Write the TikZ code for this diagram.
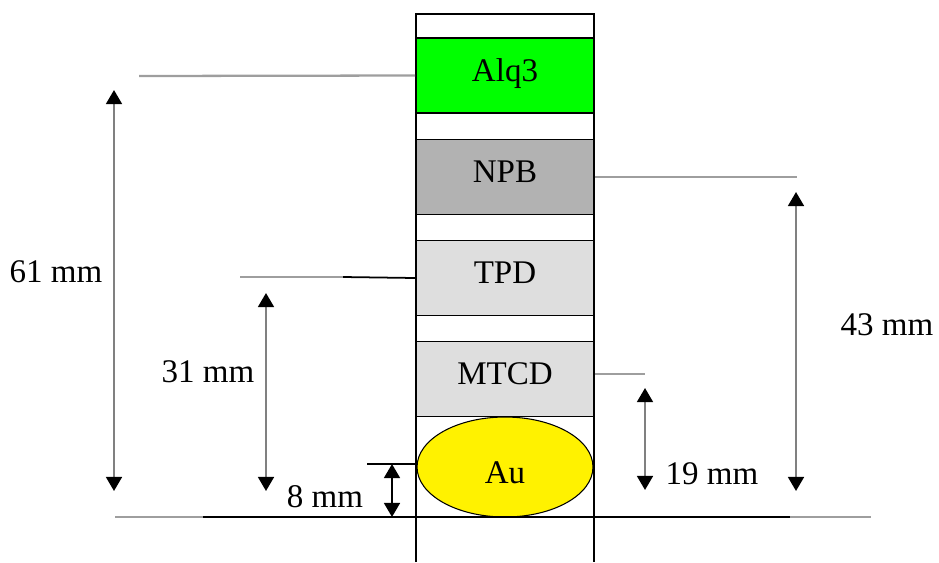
\documentclass[tikz,border=0pt]{standalone}
\usepackage{fontspec}
\setmainfont{Liberation Serif}
\usetikzlibrary{arrows.meta,shapes.geometric}

\begin{document}
\begin{tikzpicture}[
    x=0.02cm, y=-0.02cm,
    font=\fontsize{18.8}{22}\selectfont,
    layer/.style={draw=black, line width=1pt, minimum width=3.56cm, minimum height=1.5cm, inner sep=0pt, text depth=6pt},
    lead/.style={black!38, line width=1.3pt},
    dimarrow/.style={black!50, line width=1.3pt, {Triangle[width=9pt,length=8pt,color=black]}-{Triangle[width=9pt,length=8pt,color=black]}},
  ]
    \useasboundingbox (0,0) rectangle (939,562);

    % the stack
    \draw[line width=1pt] (416,562) |- (594,14) -- (594,562);
    \node[layer, fill=green]    (alq)  at (505,75.5) {Alq3};
    \node[layer, fill=black!30] (npb)  at (505,177)  {NPB};
    \node[layer, fill=black!13] (tpd)  at (505,278)  {TPD};
    \node[layer, fill=black!13] (mtcd) at (505,379)  {MTCD};
    \node[ellipse, draw=black, line width=0.6pt, fill=yellow, minimum width=3.52cm, minimum height=2cm, inner sep=0pt, text height=19pt]
      (au) at (505,467) {Au};

    % free ends of the leader lines
    \coordinate (alq-end)  at (139,76);
    \coordinate (npb-end)  at (797,177);
    \coordinate (tpd-end)  at (240,277);
    \coordinate (tpd-mid)  at (343,277);
    \coordinate (mtcd-end) at (645,374);
    \coordinate (au-end)   at (367,464);
    \coordinate (base-l)   at (115,517);
    \coordinate (base-lm)  at (203,517);
    \coordinate (base-rm)  at (790,517);
    \coordinate (base-r)   at (871,517);

    \draw[lead] (alq.west) -- (alq-end);
    \draw[lead] (npb.east) -- (npb-end);
    \draw[line width=1pt] (tpd.west) -- (tpd-mid);
    \draw[lead] (tpd-mid) -- (tpd-end);
    \draw[lead] (mtcd-end -| mtcd.east) -- (mtcd-end);
    \draw[line width=1pt] (au-end -| au.west) -- (au-end);
    \draw[lead] (base-l) -- (base-lm);
    \draw[line width=1pt] (base-lm) -- (base-rm);
    \draw[lead] (base-rm) -- (base-r);

    % dimension arrows
    \foreach \n/\xx/\ya/\yb in {d61/114/90/491, d31/266/293/491, d43/796/192/491, d19/645/388/490, d8/392/464/517} {
      \coordinate (\n-t) at (\xx,\ya);
      \coordinate (\n-b) at (\xx,\yb);
    }
    \foreach \n in {d61,d31,d43,d19} \draw[dimarrow] (\n-t) -- (\n-b);
    \draw[dimarrow, black] (d8-t) -- (d8-b);

    \node (l61) at (56,272)  {61 mm};
    \node (l31) at (208,372) {31 mm};
    \node (l43) at (887,325) {43 mm};
    \node (l19) at (712,474) {19 mm};
    \node (l8)  at (325,497) {8 mm};
  \end{tikzpicture}
\end{document}
